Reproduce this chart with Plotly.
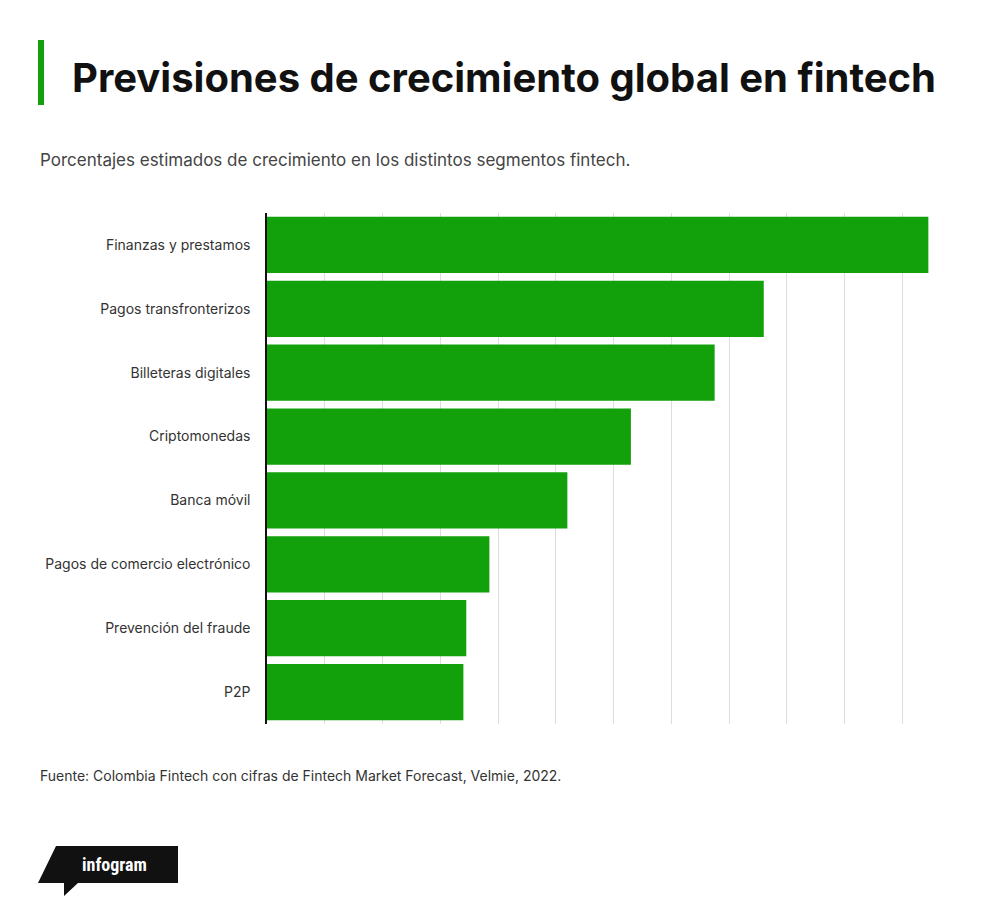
import plotly.graph_objects as go

categories = ["Finanzas y prestamos", "Pagos transfronterizos", "Billeteras digitales",
              "Criptomonedas", "Banca móvil", "Pagos de comercio electrónico",
              "Prevención del fraude", "P2P"]
values = [22.9, 17.2, 15.5, 12.6, 10.4, 7.7, 6.9, 6.8]

OFF = 8  # page body margin
W, H = 992, 908
L, T = 267 - OFF, 213 - OFF
R, B = W - (961 - OFF), H - (724 - OFF)
pw, ph = W - L - R, H - T - B


def px(x):
    return (x - OFF - L) / pw


def py(y):
    return (H - B - (y - OFF)) / ph


fig = go.Figure(go.Bar(
    x=values, y=categories, orientation="h",
    marker=dict(color="#12a10b", line=dict(width=0)),
    hoverinfo="x+y",
))

fig.update_layout(
    width=W, height=H,
    margin=dict(l=L, r=R, t=T, b=B),
    paper_bgcolor="white", plot_bgcolor="white",
    font=dict(family="Inter, Roboto, sans-serif", color="#333"),
    bargap=0.12,
    showlegend=False,
    xaxis=dict(range=[0, 24.03], dtick=2, showticklabels=False, showgrid=True,
               gridcolor="#dddddd", gridwidth=1, zeroline=False, fixedrange=True),
    yaxis=dict(autorange="reversed", tickfont=dict(size=14, color="#333"),
               ticks="", ticklabelstandoff=12, showline=True, linecolor="#111",
               linewidth=1.5, fixedrange=True),
    shapes=[
        dict(type="rect", xref="paper", yref="paper", x0=px(38), x1=px(44),
             y0=py(105), y1=py(40), fillcolor="#12a10b", line=dict(width=0)),
        dict(type="path", xref="paper", yref="paper",
             path=f"M {px(56)},{py(846)} L {px(178)},{py(846)} L {px(178)},{py(883)} "
                  f"L {px(78)},{py(883)} L {px(64)},{py(896)} L {px(64)},{py(883)} "
                  f"L {px(38)},{py(883)} Z",
             fillcolor="#111", line=dict(width=0)),
    ],
    annotations=[
        dict(text="<b>Previsiones de crecimiento global en fintech</b>", xref="paper", yref="paper",
             x=px(70), y=py(77), xanchor="left", yanchor="middle", showarrow=False,
             font=dict(size=40, color="#111", family="Inter, sans-serif", weight=900)),
        dict(text="Porcentajes estimados de crecimiento en los distintos segmentos fintech.",
             xref="paper", yref="paper", x=px(38), y=py(160), xanchor="left", yanchor="middle",
             showarrow=False, font=dict(size=17, color="#444")),
        dict(text="Fuente: Colombia Fintech con cifras de Fintech Market Forecast, Velmie, 2022.",
             xref="paper", yref="paper", x=px(38), y=py(775), xanchor="left", yanchor="middle",
             showarrow=False, font=dict(size=14, color="#333")),
        dict(text="<b>infogram</b>", xref="paper", yref="paper", x=px(114), y=py(864),
             xanchor="center", yanchor="middle", showarrow=False,
             font=dict(size=18, color="white", family="Roboto Condensed, Roboto, sans-serif")),
    ],
)

fig.write_html("out.html")
